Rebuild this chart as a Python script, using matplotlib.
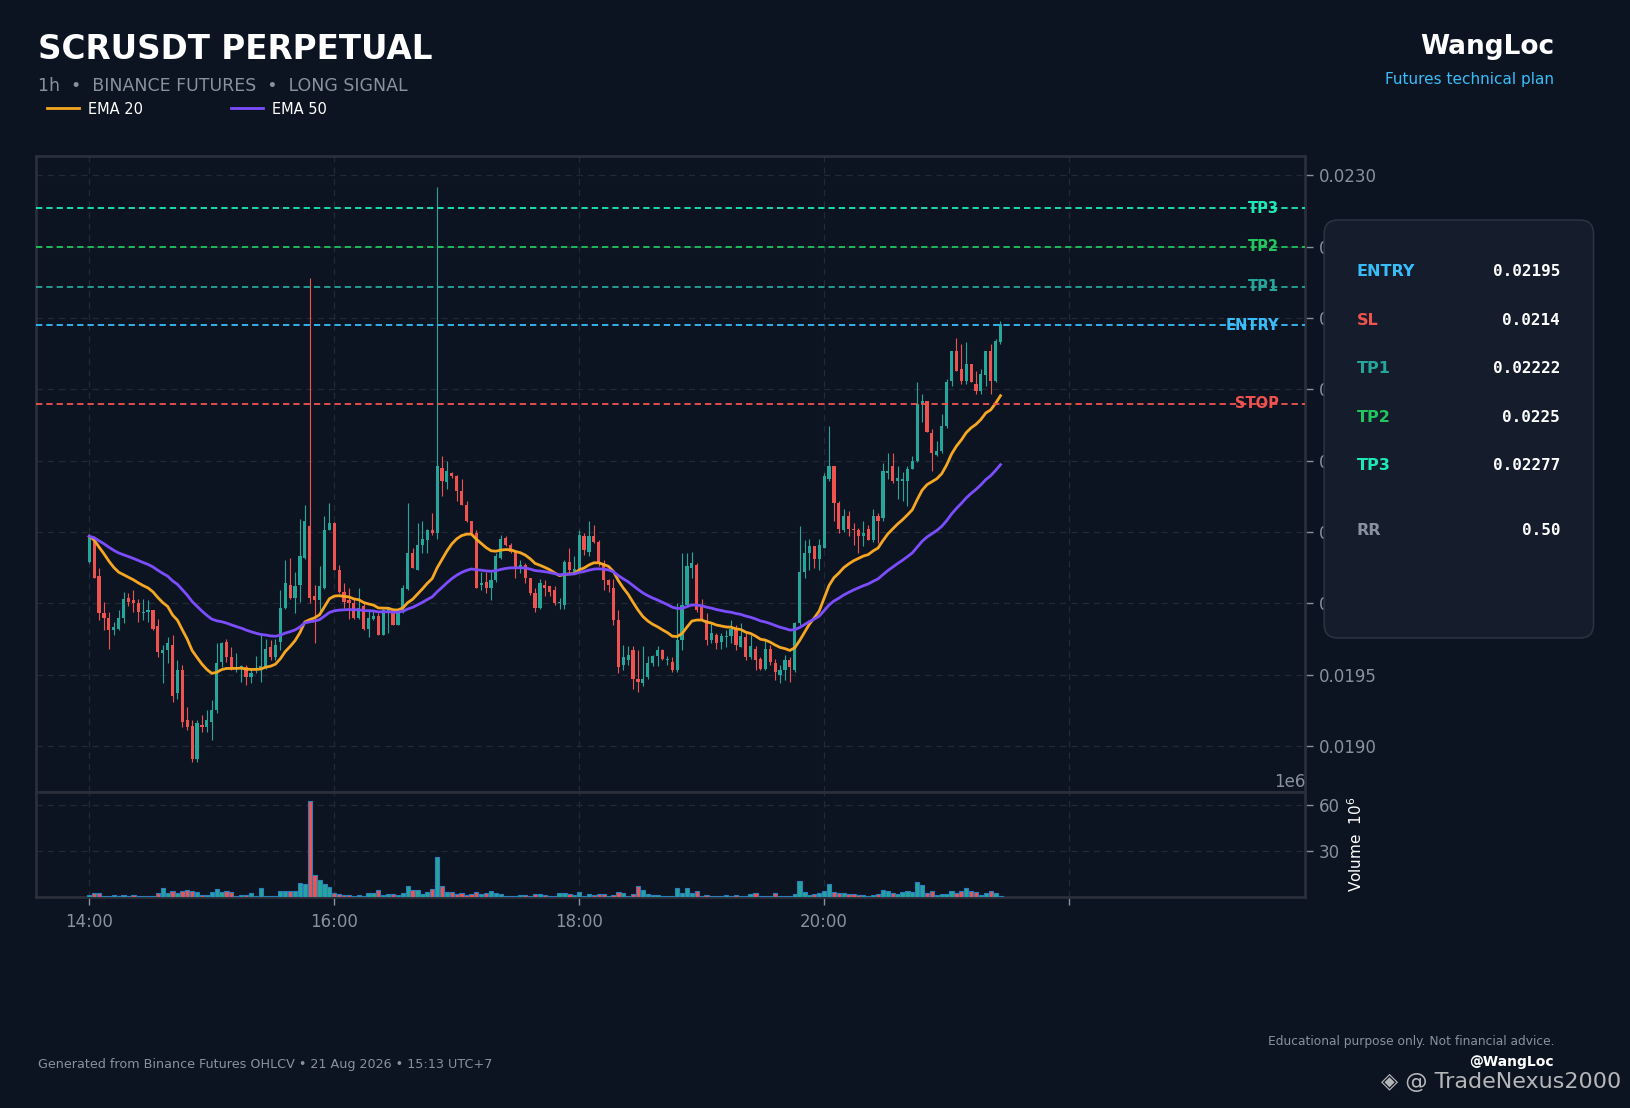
import numpy as np
import pandas as pd
import matplotlib
matplotlib.use("Agg")
import matplotlib.pyplot as plt
from matplotlib.patches import FancyBboxPatch
from matplotlib.ticker import FixedLocator, FixedFormatter, ScalarFormatter

plt.rcParams["font.family"] = ["DejaVu Sans"]

# ---- candles: 25 per hour, first one at 14:00 ----
open_ = [0.02029, 0.02045, 0.02019, 0.01993, 0.01990, 0.01981, 0.01982, 0.01990, 0.02004, 0.02002,
         0.02000, 0.01993, 0.01994, 0.01995, 0.01984, 0.01965, 0.01967, 0.01971, 0.01937, 0.01953,
         0.01918, 0.01914, 0.01891, 0.01915, 0.01913, 0.01917, 0.01925, 0.01959, 0.01973, 0.01962,
         0.01954, 0.01954, 0.01955, 0.01948, 0.01953, 0.01954, 0.01955, 0.01969, 0.01962, 0.01973,
         0.01997, 0.02013, 0.02004, 0.02013, 0.02032, 0.02054, 0.02005, 0.02002, 0.02011, 0.02051,
         0.02056, 0.02023, 0.02008, 0.02002, 0.02000, 0.01990, 0.01998, 0.01982, 0.01989, 0.01991,
         0.01978, 0.01994, 0.01995, 0.01985, 0.01995, 0.02010, 0.02035, 0.02023, 0.02041, 0.02044,
         0.02051, 0.02049, 0.02095, 0.02085, 0.02091, 0.02089, 0.02079, 0.02069, 0.02058, 0.02049,
         0.02013, 0.02015, 0.02011, 0.02016, 0.02032, 0.02046, 0.02041, 0.02036, 0.02025, 0.02027,
         0.02018, 0.02007, 0.01997, 0.02013, 0.02012, 0.02009, 0.02000, 0.01999, 0.02029, 0.02022,
         0.02023, 0.02047, 0.02036, 0.02047, 0.02043, 0.02028, 0.02016, 0.02011, 0.01988, 0.01957,
         0.01960, 0.01967, 0.01947, 0.01944, 0.01948, 0.01958, 0.01963, 0.01967, 0.01960, 0.01959,
         0.01953, 0.01974, 0.01999, 0.02025, 0.02027, 0.01998, 0.01988, 0.01974, 0.01978, 0.01973,
         0.01976, 0.01977, 0.01982, 0.01969, 0.01976, 0.01962, 0.01968, 0.01961, 0.01954, 0.01968,
         0.01958, 0.01950, 0.01953, 0.01960, 0.01953, 0.01986, 0.02022, 0.02035, 0.02040, 0.02031,
         0.02039, 0.02087, 0.02096, 0.02070, 0.02051, 0.02061, 0.02052, 0.02051, 0.02047, 0.02052,
         0.02044, 0.02061, 0.02060, 0.02091, 0.02096, 0.02086, 0.02086, 0.02086, 0.02094, 0.02100,
         0.02140, 0.02142, 0.02119, 0.02104, 0.02107, 0.02124, 0.02156, 0.02177, 0.02164, 0.02156,
         0.02168, 0.02154, 0.02149, 0.02160, 0.02177, 0.02156, 0.02183]
high = [0.02048, 0.02047, 0.02025, 0.02001, 0.01994, 0.01987, 0.01995, 0.02008, 0.02007, 0.02009,
        0.02003, 0.02003, 0.02002, 0.01995, 0.01989, 0.01971, 0.01976, 0.01978, 0.01960, 0.01957,
        0.01927, 0.01918, 0.01918, 0.01922, 0.01925, 0.01932, 0.01972, 0.01973, 0.01975, 0.01969,
        0.01965, 0.01957, 0.01957, 0.01954, 0.01963, 0.01979, 0.01975, 0.01974, 0.01975, 0.02009,
        0.02030, 0.02032, 0.02022, 0.02059, 0.02069, 0.02228, 0.02013, 0.02026, 0.02061, 0.02070,
        0.02057, 0.02027, 0.02014, 0.02011, 0.02004, 0.02011, 0.02000, 0.01996, 0.01995, 0.01993,
        0.01996, 0.01997, 0.01996, 0.01995, 0.02013, 0.02070, 0.02039, 0.02056, 0.02058, 0.02052,
        0.02063, 0.02292, 0.02103, 0.02100, 0.02092, 0.02090, 0.02087, 0.02072, 0.02058, 0.02051,
        0.02022, 0.02022, 0.02022, 0.02035, 0.02048, 0.02047, 0.02042, 0.02037, 0.02030, 0.02028,
        0.02018, 0.02011, 0.02017, 0.02016, 0.02012, 0.02012, 0.02004, 0.02030, 0.02039, 0.02033,
        0.02051, 0.02049, 0.02058, 0.02055, 0.02044, 0.02030, 0.02017, 0.02017, 0.01995, 0.01971,
        0.01970, 0.01970, 0.01967, 0.01970, 0.01963, 0.01964, 0.01970, 0.01968, 0.01963, 0.01962,
        0.02000, 0.02035, 0.02035, 0.02036, 0.02028, 0.02003, 0.01993, 0.01986, 0.01979, 0.01979,
        0.01981, 0.01988, 0.01985, 0.01986, 0.01979, 0.01978, 0.01970, 0.01962, 0.01974, 0.01971,
        0.01961, 0.01957, 0.01964, 0.01962, 0.01987, 0.02054, 0.02044, 0.02045, 0.02040, 0.02045,
        0.02091, 0.02124, 0.02096, 0.02072, 0.02066, 0.02065, 0.02056, 0.02053, 0.02058, 0.02055,
        0.02066, 0.02063, 0.02098, 0.02105, 0.02105, 0.02096, 0.02092, 0.02096, 0.02103, 0.02155,
        0.02147, 0.02142, 0.02122, 0.02114, 0.02133, 0.02157, 0.02177, 0.02186, 0.02182, 0.02183,
        0.02168, 0.02163, 0.02164, 0.02177, 0.02182, 0.02185, 0.02198]
low = [0.02028, 0.02018, 0.01988, 0.01981, 0.01968, 0.01978, 0.01981, 0.01986, 0.01998, 0.01994,
       0.01987, 0.01988, 0.01987, 0.01981, 0.01962, 0.01944, 0.01958, 0.01931, 0.01933, 0.01913,
       0.01911, 0.01889, 0.01889, 0.01910, 0.01910, 0.01904, 0.01923, 0.01955, 0.01959, 0.01953,
       0.01952, 0.01945, 0.01943, 0.01944, 0.01951, 0.01945, 0.01954, 0.01960, 0.01960, 0.01967,
       0.01996, 0.02003, 0.01993, 0.02001, 0.02031, 0.02000, 0.01972, 0.01993, 0.02010, 0.02051,
       0.02023, 0.02007, 0.01997, 0.01989, 0.01989, 0.01989, 0.01981, 0.01976, 0.01988, 0.01978,
       0.01978, 0.01979, 0.01985, 0.01985, 0.01993, 0.02009, 0.02025, 0.02023, 0.02035, 0.02035,
       0.02048, 0.02045, 0.02075, 0.02080, 0.02088, 0.02072, 0.02069, 0.02057, 0.02048, 0.02011,
       0.02009, 0.02007, 0.02002, 0.02015, 0.02031, 0.02040, 0.02035, 0.02018, 0.02021, 0.02014,
       0.02006, 0.01994, 0.01996, 0.02005, 0.02005, 0.01999, 0.01996, 0.01996, 0.02021, 0.02021,
       0.02022, 0.02034, 0.02033, 0.02042, 0.02026, 0.02009, 0.02008, 0.01985, 0.01951, 0.01953,
       0.01957, 0.01940, 0.01938, 0.01942, 0.01947, 0.01956, 0.01956, 0.01960, 0.01957, 0.01952,
       0.01952, 0.01967, 0.01999, 0.02018, 0.01994, 0.01988, 0.01971, 0.01972, 0.01968, 0.01968,
       0.01969, 0.01972, 0.01967, 0.01969, 0.01960, 0.01961, 0.01953, 0.01953, 0.01953, 0.01957,
       0.01946, 0.01944, 0.01946, 0.01945, 0.01952, 0.01985, 0.02018, 0.02023, 0.02025, 0.02023,
       0.02039, 0.02086, 0.02058, 0.02049, 0.02050, 0.02047, 0.02041, 0.02035, 0.02040, 0.02044,
       0.02043, 0.02042, 0.02058, 0.02087, 0.02084, 0.02073, 0.02072, 0.02068, 0.02094, 0.02099,
       0.02127, 0.02120, 0.02093, 0.02103, 0.02105, 0.02123, 0.02152, 0.02163, 0.02154, 0.02154,
       0.02155, 0.02147, 0.02147, 0.02152, 0.02147, 0.02155, 0.02182]
close = [0.02047, 0.02018, 0.01993, 0.01990, 0.01981, 0.01983, 0.01990, 0.02003, 0.02001, 0.02000,
         0.01994, 0.01994, 0.01995, 0.01982, 0.01966, 0.01967, 0.01972, 0.01935, 0.01953, 0.01917,
         0.01913, 0.01891, 0.01916, 0.01913, 0.01918, 0.01925, 0.01958, 0.01972, 0.01962, 0.01954,
         0.01955, 0.01956, 0.01948, 0.01951, 0.01954, 0.01956, 0.01968, 0.01962, 0.01971, 0.01997,
         0.02014, 0.02004, 0.02012, 0.02033, 0.02058, 0.02004, 0.02002, 0.02012, 0.02051, 0.02056,
         0.02023, 0.02008, 0.02001, 0.02000, 0.01990, 0.01997, 0.01982, 0.01990, 0.01991, 0.01978,
         0.01995, 0.01996, 0.01985, 0.01994, 0.02011, 0.02035, 0.02025, 0.02041, 0.02045, 0.02051,
         0.02049, 0.02096, 0.02086, 0.02093, 0.02089, 0.02079, 0.02069, 0.02058, 0.02049, 0.02011,
         0.02014, 0.02011, 0.02016, 0.02033, 0.02045, 0.02041, 0.02036, 0.02025, 0.02027, 0.02018,
         0.02007, 0.01997, 0.02014, 0.02011, 0.02008, 0.02000, 0.02001, 0.02029, 0.02023, 0.02024,
         0.02048, 0.02037, 0.02047, 0.02043, 0.02028, 0.02016, 0.02013, 0.01988, 0.01955, 0.01962,
         0.01964, 0.01947, 0.01945, 0.01947, 0.01958, 0.01963, 0.01967, 0.01961, 0.01961, 0.01953,
         0.01974, 0.01999, 0.02026, 0.02028, 0.01995, 0.01988, 0.01974, 0.01979, 0.01972, 0.01977,
         0.01977, 0.01982, 0.01971, 0.01977, 0.01962, 0.01970, 0.01960, 0.01954, 0.01968, 0.01959,
         0.01952, 0.01953, 0.01960, 0.01955, 0.01986, 0.02022, 0.02035, 0.02040, 0.02031, 0.02041,
         0.02089, 0.02096, 0.02070, 0.02052, 0.02061, 0.02052, 0.02051, 0.02047, 0.02049, 0.02044,
         0.02061, 0.02058, 0.02093, 0.02093, 0.02086, 0.02088, 0.02087, 0.02094, 0.02100, 0.02140,
         0.02142, 0.02120, 0.02105, 0.02107, 0.02124, 0.02155, 0.02177, 0.02163, 0.02156, 0.02168,
         0.02155, 0.02149, 0.02161, 0.02177, 0.02156, 0.02184, 0.02196]
# volume in millions of contracts
volume_m = [0.9, 2.2, 2.6, 0.5, 0.5, 0.9, 0.5, 0.9, 0.5, 0.9, 0.5, 0.5, 0.5, 0.5, 2.6, 5.9, 2.6, 3.9, 2.6, 3.9,
            4.6, 3.9, 3.3, 1.0, 1.0, 3.3, 5.2, 3.3, 3.9, 3.3, 0.6, 1.0, 1.0, 2.6, 0.6, 5.9, 0.6, 0.2, 0.6, 3.9,
            3.9, 3.9, 3.9, 9.1, 8.5, 62.8, 13.9, 11.1, 8.5, 6.5, 2.6, 2.0, 1.3, 1.3, 0.7, 1.3, 0.7, 2.6, 2.6, 4.6,
            1.3, 2.0, 2.0, 1.3, 2.6, 7.2, 4.6, 4.6, 2.0, 3.3, 5.2, 26.3, 7.2, 3.3, 3.3, 2.0, 2.6, 1.3, 2.0, 3.3,
            2.0, 2.6, 3.9, 2.6, 2.0, 0.5, 0.5, 0.5, 1.3, 1.3, 0.7, 2.0, 2.0, 1.3, 0.5, 0.7, 2.6, 2.6, 2.0, 1.3,
            3.3, 0.7, 2.0, 1.3, 2.0, 2.0, 0.7, 1.3, 3.3, 2.6, 0.7, 2.0, 7.2, 4.6, 2.0, 1.3, 1.3, 0.7, 0.7, 0.7,
            5.9, 2.6, 5.9, 2.6, 3.9, 0.7, 1.3, 0.7, 0.5, 0.2, 1.3, 0.7, 1.3, 0.7, 0.7, 2.0, 2.6, 0.7, 0.7, 0.2,
            2.6, 0.2, 0.7, 0.7, 2.0, 10.4, 3.3, 1.3, 2.0, 2.6, 3.9, 8.5, 3.3, 2.6, 2.6, 2.0, 2.0, 1.3, 1.3, 0.2,
            1.3, 2.0, 4.6, 3.9, 2.6, 2.0, 3.3, 3.9, 3.3, 9.8, 7.8, 2.6, 3.9, 1.3, 2.0, 2.0, 3.9, 2.6, 3.9, 5.9,
            3.9, 3.3, 1.3, 2.6, 3.9, 2.6, 0.7]

level_names = ["TP3", "TP2", "TP1", "ENTRY", "STOP"]
level_prices = [0.02277, 0.02250, 0.02222, 0.02195, 0.02140]

plan_labels = ["ENTRY", "SL", "TP1", "TP2", "TP3", "RR"]
plan_values = ["0.02195", "0.0214", "0.02222", "0.0225", "0.02277", "0.50"]

hour_ticks = [14, 16, 18, 20, 22]
hour_labels = ["14:00", "16:00", "18:00", "20:00", ""]

BG = "#0d1421"
UP = "#26a69a"
DOWN = "#ef5350"
GRAY = "#8a919e"
SPINE = "#2a2f3a"
GRID = "#232a37"
level_colors = ["#1de9b6", "#22c55e", "#26a69a", "#38bdf8", "#ef5350"]
plan_colors = ["#38bdf8", "#ef5350", "#26a69a", "#22c55e", "#1de9b6", GRAY]

o = np.array(open_)
h = np.array(high)
l = np.array(low)
c = np.array(close)
t = 14 + np.arange(len(c)) / 25.0
is_up = c >= o
colors = np.where(is_up, UP, DOWN)

ema20 = pd.Series(c).ewm(span=20, adjust=False).mean()
ema50 = pd.Series(c).ewm(span=50, adjust=False).mean()

fig = plt.figure(figsize=(16.31, 11.08), dpi=100, facecolor=BG)
ax = fig.add_axes([0.0223, 0.2856, 0.7781, 0.5736], facecolor=BG)
axv = fig.add_axes([0.0223, 0.1908, 0.7781, 0.0948], facecolor=BG, sharex=ax)

# candles
ax.vlines(t, l, h, colors=colors, linewidth=0.8, zorder=3)
body_h = np.maximum(np.abs(c - o), 0.000012)
ax.bar(t, body_h, bottom=np.minimum(o, c), width=0.026, color=colors, linewidth=0, zorder=4)

ema20_line, = ax.plot(t, ema20, color="#f5a623", linewidth=2, zorder=5, label="EMA 20")
ema50_line, = ax.plot(t, ema50, color="#7c4dff", linewidth=2, zorder=5, label="EMA 50")

for name, price, col in zip(level_names, level_prices, level_colors):
    ax.axhline(price, color=col, linewidth=1.3, linestyle=(0, (3.5, 2.2)), zorder=6)
    ax.text(0.979, price, name, transform=ax.get_yaxis_transform(), color=col,
            fontsize=10.5, fontweight="bold", ha="right", va="center", zorder=5)

ax.set_xlim(13.568, 23.93)
ax.set_ylim(0.01868, 0.023135)
ax.yaxis.tick_right()
ax.set_yticks([0.0190, 0.0195, 0.0200, 0.0205, 0.0210, 0.0215, 0.0220, 0.0225, 0.0230])
ax.yaxis.set_major_formatter(plt.FormatStrFormatter("%.4f"))
ax.tick_params(axis="y", colors=GRAY, labelsize=12, length=6, width=1)
ax.tick_params(axis="x", labelbottom=False, length=0)
ax.grid(True, color=GRID, linestyle=(0, (5, 4)), linewidth=0.9)

# volume
axv.bar(t, np.array(volume_m) * 1e6, width=0.035, color=colors, edgecolor="#2a7fc0", linewidth=0.8, zorder=3)
axv.set_ylim(0, max(volume_m) * 1e6 * 1.1)
axv.yaxis.tick_right()
axv.yaxis.set_offset_position("right")
vol_fmt = ScalarFormatter()
vol_fmt.set_powerlimits((6, 6))
axv.yaxis.set_major_formatter(vol_fmt)
axv.set_yticks([30e6, 60e6])
axv.tick_params(axis="y", colors=GRAY, labelsize=12, length=6, width=1)
axv.yaxis.get_offset_text().set_color(GRAY)
axv.yaxis.get_offset_text().set_fontsize(12)
axv.yaxis.set_label_position("right")
axv.set_ylabel("Volume  $10^6$", color="white", fontsize=11, labelpad=5)
axv.xaxis.set_major_locator(FixedLocator(hour_ticks))
axv.xaxis.set_major_formatter(FixedFormatter(hour_labels))
axv.tick_params(axis="x", colors=GRAY, labelsize=12, length=6, width=1, pad=6)
axv.grid(True, color=GRID, linestyle=(0, (5, 4)), linewidth=0.9)

for a in (ax, axv):
    for s in a.spines.values():
        s.set_color(SPINE)
        s.set_linewidth(2)

# header
fig.text(0.0236, 0.9549, "SCRUSDT PERPETUAL", color="white", fontsize=23.5, fontweight="bold", va="center")
fig.text(0.0236, 0.9224, "1h  \u2022  BINANCE FUTURES  \u2022  LONG SIGNAL", color=GRAY, fontsize=12.5, va="center")
fig.text(0.9528, 0.9576, "WangLoc", color="white", fontsize=19, fontweight="bold", ha="right", va="center")
fig.text(0.9528, 0.9278, "Futures technical plan", color="#38bdf8", fontsize=11, ha="right", va="center")
fig.legend(handles=[ema20_line, ema50_line], loc="center left", bbox_to_anchor=(0.021, 0.9016),
           ncol=2, frameon=False, fontsize=10.5, labelcolor="white", handlelength=2.2,
           columnspacing=6.0, handletextpad=0.6)

# info panel
axp = fig.add_axes([0.8112, 0.4227, 0.1665, 0.3802], zorder=10)
axp.set_axis_off()
axp.set_xlim(0, 1)
axp.set_ylim(0, 1)
axp.add_patch(FancyBboxPatch((0.004, 0.004), 0.992, 0.992, boxstyle="round,pad=0,rounding_size=0.05",
                             facecolor="#151c2b", edgecolor="#2a3140", linewidth=1.2,
                             transform=axp.transAxes, mutation_aspect=0.66))
row_y = [0.755, 0.7108, 0.6677, 0.6236, 0.5803, 0.5212]
for lab, val, col, yy in zip(plan_labels, plan_values, plan_colors, row_y):
    fig.text(0.832, yy, lab, color=col, fontsize=11.5, fontweight="bold", va="center", zorder=11)
    fig.text(0.9565, yy, val, color="white", fontsize=11.5, fontweight="bold", family="DejaVu Sans Mono",
             ha="right", va="center", zorder=11)

# footer
fig.text(0.0236, 0.0397, "Generated from Binance Futures OHLCV \u2022 21 Aug 2026 \u2022 15:13 UTC+7",
         color=GRAY, fontsize=9.2, va="center")
fig.text(0.9528, 0.0596, "Educational purpose only. Not financial advice.", color=GRAY, fontsize=8.8,
         ha="right", va="center")
fig.text(0.9528, 0.0415, "@WangLoc", color="white", fontsize=10, fontweight="bold", ha="right", va="center")
fig.text(0.994, 0.0235, "\u25c8 @ TradeNexus2000", color="#d4d4d4", alpha=0.85, fontsize=16,
         ha="right", va="center")

fig.savefig("out.png", dpi=100, facecolor=BG)
